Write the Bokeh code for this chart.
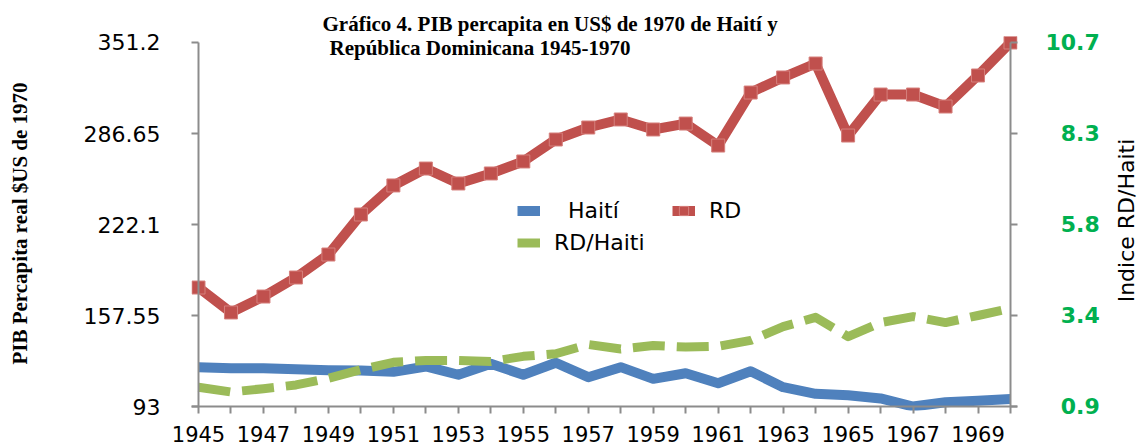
import math
from bokeh.plotting import figure
from bokeh.layouts import row
from bokeh.models import (LinearAxis, Range1d, FixedTicker, Legend, LegendItem,
                          Label, Title, Span, BoxAnnotation, ColumnDataSource)
from bokeh.embed import file_html
from bokeh.resources import INLINE

# ---------------- data ----------------
years = list(range(1945, 1971))
rd = [177.4, 159.7, 171.0, 184.5, 200.8, 229.2, 249.8, 261.8, 251.2, 258.3,
      266.8, 282.4, 290.9, 296.6, 289.5, 293.7, 278.1, 315.7, 326.4, 336.3,
      285.2, 314.3, 314.3, 305.8, 327.8, 351.2]
haiti = [120.9, 120.2, 120.2, 119.5, 118.8, 118.5, 117.6, 121.4, 115.5, 123.3,
         115.5, 124.0, 113.8, 120.9, 112.6, 116.6, 109.5, 118.0, 106.7, 102.0,
         101.0, 98.7, 93.0, 96.0, 97.0, 98.4]
ratio = [1.42, 1.29, 1.38, 1.48, 1.66, 1.89, 2.09, 2.14, 2.14, 2.11,
         2.25, 2.32, 2.57, 2.45, 2.54, 2.50, 2.52, 2.68, 3.05, 3.30,
         2.78, 3.16, 3.32, 3.16, 3.35, 3.54]

left_ticks = [93, 157.55, 222.1, 286.65, 351.2]
left_labels = ["93", "157.55", "222.1", "286.65", "351.2"]
right_ticks = [0.9, 3.35, 5.8, 8.25, 10.7]
right_labels = ["\u20070.9", "\u20073.4", "\u20075.8", "\u20078.3", "10.7"]
year_labels = [str(y) if (y - 1945) % 2 == 0 else "" for y in years]

title_1 = "Gráfico 4. PIB percapita en US$ de 1970 de Haití y"
title_2 = "República Dominicana 1945-1970"
left_title = "PIB Percapita real $US de 1970"
right_title = "Indice RD/Haiti"

# ---------------- scales ----------------
Y0, Y1 = left_ticks[0], left_ticks[-1]
R0, R1 = right_ticks[0], right_ticks[-1]
k = (R1 - R0) / (Y1 - Y0)
x_pad = 7 / 32.48
y_lo, y_hi = 90.163, 355.456
r_lo, r_hi = R0 + (y_lo - Y0) * k, R0 + (y_hi - Y0) * k

src = ColumnDataSource(dict(year=years, rd=rd, haiti=haiti, ratio=ratio))

p = figure(frame_width=826, frame_height=374,
           x_range=Range1d(years[0] - x_pad, years[-1] + x_pad),
           y_range=Range1d(y_lo, y_hi),
           min_border_left=191, min_border_right=96, min_border_top=36,
           min_border_bottom=37,
           output_backend="svg", toolbar_location=None,
           background_fill_color="white", border_fill_color="white")
p.outline_line_color = None
p.grid.visible = False
p.extra_y_ranges = {"ratio": Range1d(r_lo, r_hi)}

AX = "#8c8c8c"
TICK_FONT = "DejaVu Sans"

# bottom axis
xa = p.xaxis[0]
xa.ticker = FixedTicker(ticks=years)
xa.major_label_overrides = {y: l for y, l in zip(years, year_labels)}
xa.axis_line_color = None
xa.major_tick_line_color = AX
xa.major_tick_line_width = 2
xa.major_tick_in = 4
xa.major_tick_out = 3
xa.minor_tick_line_color = None
xa.major_label_standoff = 12
xa.major_label_text_font = TICK_FONT
xa.major_label_text_font_size = "21px"
xa.major_label_text_color = "black"

# left axis
ya = p.yaxis[0]
ya.ticker = FixedTicker(ticks=left_ticks)
ya.major_label_overrides = {t: l for t, l in zip(left_ticks, left_labels)}
ya.axis_line_color = None
ya.major_tick_line_color = AX
ya.major_tick_line_width = 2
ya.major_tick_in = 7
ya.major_tick_out = 0
ya.minor_tick_line_color = None
ya.major_label_standoff = 31
ya.major_label_text_font = TICK_FONT
ya.major_label_text_font_size = "22px"
ya.major_label_text_color = "black"
ya.axis_label = left_title
ya.axis_label_text_font = "Liberation Serif"
ya.axis_label_text_font_style = "bold"
ya.axis_label_text_font_size = "21px"
ya.axis_label_text_color = "black"
ya.axis_label_standoff = 49

# right axis
ra = LinearAxis(y_range_name="ratio", ticker=FixedTicker(ticks=right_ticks))
ra.major_label_overrides = {t: l for t, l in zip(right_ticks, right_labels)}
ra.axis_line_color = None
ra.major_tick_line_color = AX
ra.major_tick_line_width = 2
ra.major_tick_in = 7
ra.major_tick_out = 0
ra.minor_tick_line_color = None
ra.major_label_standoff = 28
ra.major_label_text_font = TICK_FONT
ra.major_label_text_font_style = "bold"
ra.major_label_text_font_size = "22px"
ra.major_label_text_color = "#00B050"
p.add_layout(ra, "right")

# axis rules (lines) at the first / last year and at the base value
p.add_layout(Span(location=Y0, dimension="width", line_color=AX, line_width=2))
for yr in (years[0], years[-1]):
    p.add_layout(BoxAnnotation(left=yr, right=yr, bottom=Y0, top=Y1,
                               fill_alpha=0, line_color=AX, line_width=2,
                               line_alpha=1))

# ---------------- series ----------------
r_h = p.line("year", "haiti", source=src, line_color="#4F81BD", line_width=10,
             line_join="round")
r_ratio = p.line("year", "ratio", source=src, y_range_name="ratio",
                 line_color="#9BBB59", line_width=9, line_dash="32 12",
                 line_join="round")
r_rd = p.line("year", "rd", source=src, line_color="#C0504D", line_width=10,
              line_join="round")
r_rdm = p.scatter("year", "rd", source=src, marker="square", size=13,
                  fill_color="#C0504D", line_color="#d6807d", line_width=1)

legend = Legend(items=[LegendItem(label="\u00a0\u00a0Haití", renderers=[r_h]),
                       LegendItem(label="RD", renderers=[r_rd, r_rdm]),
                       LegendItem(label="RD/Haiti", renderers=[r_ratio])],
                location=(326, 155), orientation="horizontal", ncols=2,
                glyph_width=23, glyph_height=25, label_height=25,
                label_width=111, label_standoff=14, spacing=7,
                padding=0, margin=0,
                label_text_font=TICK_FONT, label_text_font_size="22px",
                label_text_color="black",
                background_fill_alpha=0, border_line_alpha=0)
p.add_layout(legend)

# title: first line above the frame, second line just inside it
p.add_layout(Title(text=title_1, align="left", offset=131, standoff=1,
                   text_font="Liberation Serif", text_font_style="bold",
                   text_font_size="21px", text_color="black"), "above")
p.add_layout(Label(x=138, y=363, x_units="screen", y_units="screen", text=title_2,
                   text_font="Liberation Serif", text_font_style="bold",
                   text_font_size="21px", text_baseline="middle",
                   text_color="black"))

# narrow side strip holding the secondary-axis title (reads bottom to top)
p2 = figure(width=26, height=447, x_range=Range1d(0, 1), y_range=Range1d(0, 1),
            min_border=0, x_axis_location=None, y_axis_location=None,
            output_backend="svg", toolbar_location=None,
            background_fill_color="white", border_fill_color="white")
p2.outline_line_color = None
p2.grid.visible = False
p2.add_layout(Label(x=13, y=190, x_units="screen", y_units="screen",
                    text=right_title, angle=math.pi / 2, text_align="center",
                    text_baseline="middle", text_font=TICK_FONT,
                    text_font_size="22px", text_color="black"))

layout = row(p, p2)
open("out.html", "w").write(file_html(layout, INLINE))
